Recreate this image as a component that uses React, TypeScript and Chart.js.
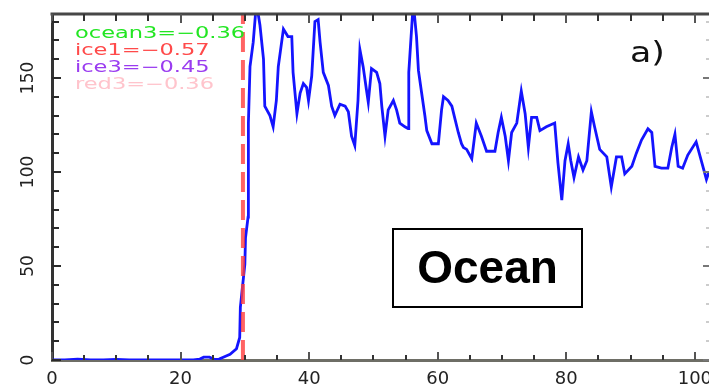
import React, { useEffect, useRef } from 'react';
import { Chart, registerables } from 'chart.js';

Chart.register(...registerables);

// ---- data ----
const xTickLabels = ['0', '20', '40', '60', '80', '100'];
const yTickLabels = ['0', '50', '100', '150'];

const oceanX = [
  0, 2, 4, 6, 8, 10, 12, 14, 16, 18, 20, 22, 23, 23.6, 24.5, 25.3, 26, 27, 27.7, 28.7, 29.2, 29.3,
  30.0, 30.1, 30.5, 30.55, 30.8, 31.3, 31.8, 32.35, 32.9, 33.1, 33.9, 34.4, 34.9, 35.2, 36.0, 36.7,
  37.3, 37.5, 38.1, 38.6, 39.1, 39.6, 39.9, 40.4, 40.9, 41.4, 41.7, 42.2, 43.0, 43.5, 44.0, 44.8,
  45.6, 46.1, 46.6, 47.1, 47.6, 47.9, 48.4, 48.9, 49.2, 49.7, 50.5, 51.0, 51.3, 51.8, 52.3, 53.1,
  53.6, 54.1, 54.9, 55.4, 55.5, 56.2, 56.7, 57.0, 57.5, 58.0, 58.3, 59.1, 60.1, 60.6, 60.9, 61.6,
  62.2, 62.7, 63.2, 63.7, 64.0, 64.5, 65.3, 66.0, 66.8, 67.6, 68.9, 69.4, 69.9, 70.5, 71.0, 71.5,
  72.3, 73.0, 73.6, 74.1, 74.6, 75.4, 75.9, 76.9, 78.2, 78.7, 79.3, 79.8, 80.3, 80.7, 81.2, 81.9,
  82.6, 83.2, 83.9, 84.4, 85.2, 86.3, 87.0, 87.8, 88.6, 89.1, 90.2, 90.9, 91.7, 92.7, 93.3, 93.8,
  94.8, 95.8, 96.4, 96.9, 97.4, 98.1, 98.9, 100.2, 101.0, 101.8, 102.2,
];
const oceanY = [
  0, 0, 0.5, 0, 0, 0.3, 0, 0, 0, 0, 0, 0, 0.5, 1.5, 1.5, 0.3, 0.5, 2, 3, 6, 12, 28,
  51, 65, 76, 126, 156, 169, 190, 178, 160, 135, 130, 124, 138, 156, 176, 172,
  172, 153, 131, 142, 147, 145, 138, 151, 180, 181, 169, 153, 146, 135, 130, 136,
  135, 132, 119, 114, 138, 165, 156, 144, 137, 155, 153, 147, 135, 119, 133, 138,
  133, 126, 124, 123, 153, 190, 172, 154, 142, 130, 122, 115, 115, 133, 140, 138,
  135, 128, 121, 115, 113, 112, 107, 126, 119, 111, 111, 121, 129, 119, 106, 121,
  126, 143, 131, 113, 129, 129, 122, 124, 126, 105, 85, 106, 115, 106, 97, 108,
  101, 106, 132, 124, 112, 108, 92, 108, 108, 99, 103, 110, 117, 123, 121, 103,
  102, 102, 113, 120, 103, 102, 109, 116, 106, 96, 100,
];

const markerX = [29.7, 29.7];
const markerY = [0, 184];

const legendLabels = ['ocean3=\u22120.36', 'ice1=\u22120.57', 'ice3=\u22120.45', 'red3=\u22120.36'];
const legendColors = ['#22e622', '#ff4a4a', '#9a3cf0', '#ffc4cc'];
const panelLabel = 'a)';
const boxLabel = 'Ocean';

const decorPlugin = {
  id: 'decor',
  afterDraw(chart: any) {
    const { ctx, chartArea: a, scales } = chart;
    const xs = scales.x;
    const ys = scales.y;
    ctx.save();

    // top axis line
    ctx.strokeStyle = '#474747';
    ctx.lineWidth = 3;
    ctx.beginPath();
    ctx.moveTo(a.left - 1.5, a.top);
    ctx.lineTo(a.right, a.top);
    ctx.stroke();

    // x ticks (bottom & top, inward)
    ctx.lineWidth = 2;
    for (let v = 0; v <= xs.max; v += 5) {
      const px = Math.round(xs.getPixelForValue(v));
      const major = v % 20 === 0;
      ctx.strokeStyle = major ? '#555' : '#333';
      ctx.beginPath();
      ctx.moveTo(px, a.bottom);
      ctx.lineTo(px, a.bottom - (major ? 8 : 5));
      ctx.moveTo(px, a.top);
      ctx.lineTo(px, a.top + (major ? 9 : 7));
      ctx.stroke();
    }
    // y ticks (left inward, right faint)
    for (let v = 0; v <= ys.max; v += 10) {
      const py = Math.round(ys.getPixelForValue(v));
      const major = v % 50 === 0;
      ctx.strokeStyle = '#2a2a2a';
      ctx.beginPath();
      ctx.moveTo(a.left, py);
      ctx.lineTo(a.left + (major ? 9 : 7), py);
      ctx.stroke();
      ctx.strokeStyle = major ? '#777' : '#ccc';
      ctx.beginPath();
      ctx.moveTo(a.right, py);
      ctx.lineTo(a.right - (major ? 6 : 3), py);
      ctx.stroke();
    }

    // correlation legend text (wide, thin font)
    ctx.font = '15px "DejaVu Sans"';
    ctx.textBaseline = 'alphabetic';
    ctx.textAlign = 'left';
    legendLabels.forEach((t, i) => {
      ctx.save();
      ctx.translate(a.left + 23, 37.5 + i * 17);
      ctx.scale(1.5, 1);
      ctx.fillStyle = legendColors[i];
      ctx.fillText(t, 0, 0);
      ctx.restore();
    });

    // panel label
    ctx.save();
    ctx.translate(630, 62);
    ctx.scale(1.2, 1);
    ctx.font = '29px "DejaVu Sans"';
    ctx.fillStyle = '#111';
    ctx.fillText(panelLabel, 0, 0);
    ctx.restore();

    // Ocean box
    ctx.fillStyle = '#fff';
    ctx.fillRect(393, 229, 189, 78);
    ctx.strokeStyle = '#000';
    ctx.lineWidth = 2;
    ctx.strokeRect(393, 229, 189, 78);
    ctx.fillStyle = '#000';
    ctx.font = 'bold 46px "Liberation Sans"';
    ctx.textAlign = 'center';
    ctx.textBaseline = 'middle';
    ctx.fillText(boxLabel, 487.5, 270);

    ctx.restore();
  },
};

export default function App() {
  const ref = useRef<HTMLCanvasElement>(null);

  useEffect(() => {
    document.body.style.margin = '0';
    const canvas = ref.current;
    if (!canvas) return;
    const chart = new Chart(canvas, {
      type: 'line',
      data: {
        datasets: [
          {
            label: 'marker',
            data: markerX.map((x, i) => ({ x, y: markerY[i] })),
            borderColor: 'rgba(255,60,60,0.8)',
            borderWidth: 4,
            borderDash: [20, 8],
            pointRadius: 0,
            fill: false,
          },
          {
            label: 'ocean',
            data: oceanX.map((x, i) => ({ x, y: oceanY[i] })),
            borderColor: '#1414ff',
            borderWidth: 2.8,
            pointRadius: 0,
            tension: 0,
            fill: false,
          },
        ],
      },
      options: {
        responsive: false,
        animation: false,
        devicePixelRatio: 1,
        layout: { padding: { top: 14, right: 0, left: 0, bottom: 0 } },
        plugins: { legend: { display: false }, tooltip: { enabled: false } },
        scales: {
          x: {
            type: 'linear',
            min: 0,
            max: 102.2,
            grid: { display: false, drawTicks: false },
            border: { display: true, color: '#6e6e66', width: 3 },
            ticks: {
              stepSize: 20,
              includeBounds: false,
              autoSkip: false,
              maxRotation: 0,
              padding: 9,
              color: '#222',
              font: { family: '"DejaVu Sans"', size: 18 },
              callback: (v: any) => (xTickLabels.includes(String(v)) ? String(v) : ''),
            },
            afterFit: (s: any) => {
              s.height = 32;
              s.paddingLeft = 0;
              s.paddingRight = 0;
            },
          },
          y: {
            type: 'linear',
            min: 0,
            max: 184,
            grid: { display: false, drawTicks: false },
            border: { display: true, color: '#333', width: 3 },
            ticks: {
              stepSize: 50,
              includeBounds: false,
              minRotation: 90,
              maxRotation: 90,
              crossAlign: 'center',
              padding: 7,
              color: '#222',
              font: { family: '"DejaVu Sans"', size: 17 },
              callback: (v: any) => (yTickLabels.includes(String(v)) ? String(v) : ''),
            },
            afterFit: (s: any) => {
              s.width = 52;
              s.paddingTop = 0;
              s.paddingBottom = 0;
            },
          },
        },
      },
      plugins: [decorPlugin],
    });
    return () => chart.destroy();
  }, []);

  return (
    <div style={{ position: 'fixed', left: 0, top: 0, width: 709, height: 392, background: '#fff' }}>
      <canvas ref={ref} width={709} height={392} style={{ display: 'block' }} />
    </div>
  );
}
